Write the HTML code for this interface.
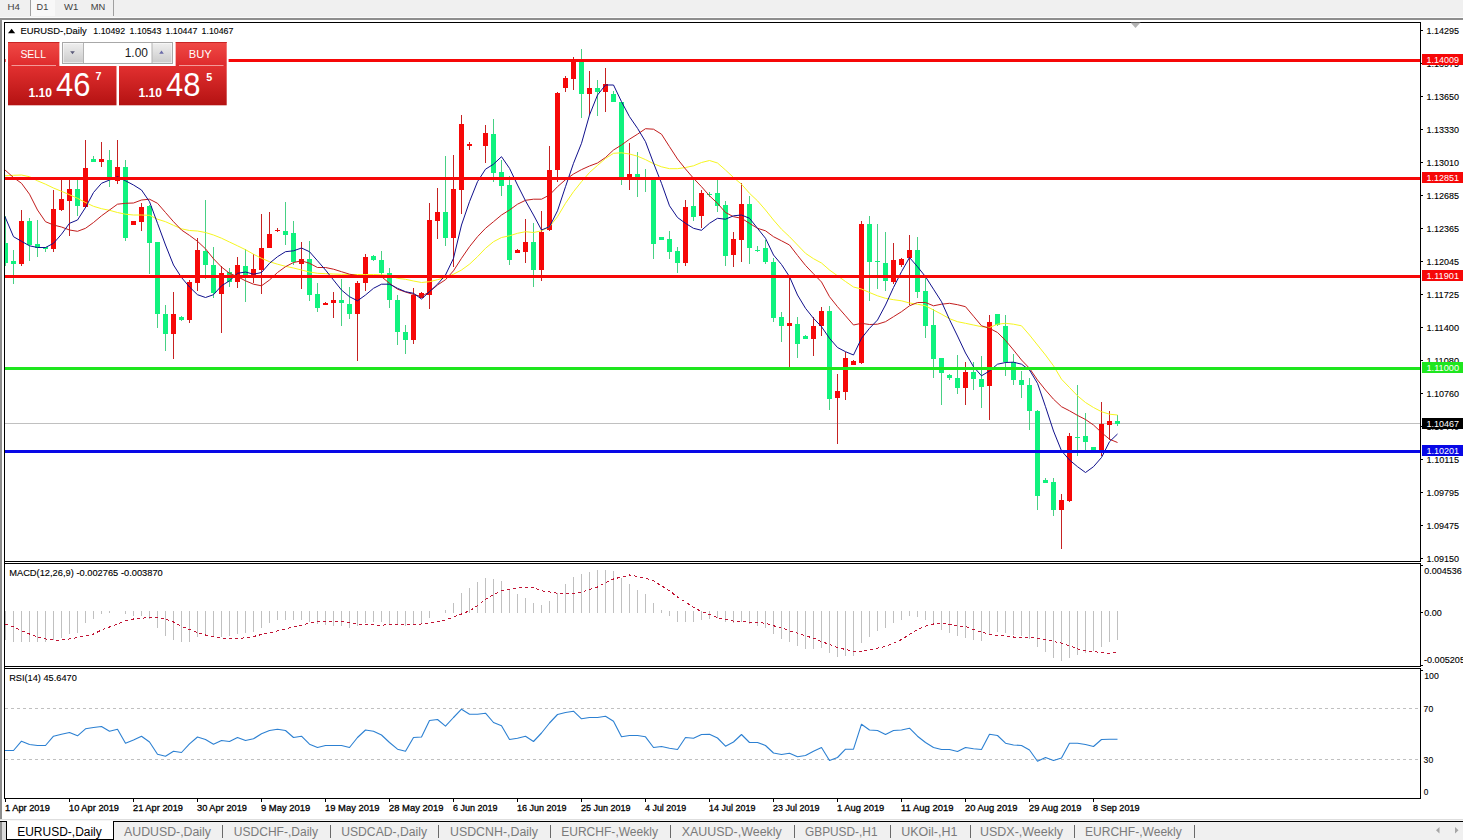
<!DOCTYPE html>
<html lang="en"><head><meta charset="utf-8"><title>EURUSD-,Daily</title>
<style>html,body{margin:0;padding:0;background:#fff;overflow:hidden}body{width:1463px;height:840px;font-family:"Liberation Sans",sans-serif}svg{display:block}text{font-family:"Liberation Sans",sans-serif}</style>
</head><body>
<svg width="1463" height="840" viewBox="0 0 1463 840">
<defs>
<linearGradient id="gb" x1="0" y1="0" x2="0" y2="1"><stop offset="0" stop-color="#f04a46"/><stop offset="1" stop-color="#de2a2c"/></linearGradient>
<linearGradient id="gp" x1="0" y1="0" x2="0" y2="1"><stop offset="0" stop-color="#e23030"/><stop offset="1" stop-color="#b41212"/></linearGradient>
<linearGradient id="gs" x1="0" y1="0" x2="0" y2="1"><stop offset="0" stop-color="#eeeeee"/><stop offset="1" stop-color="#cccccc"/></linearGradient>
<clipPath id="cm"><rect x="5" y="23" width="1415" height="538"/></clipPath>
</defs>
<rect x="0" y="0" width="1463" height="840" fill="#fff" />
<g id="topbar" shape-rendering="crispEdges">
<rect x="0" y="0" width="1463" height="17" fill="#f0f0f0" />
<rect x="0" y="17" width="1463" height="1" fill="#fafafa" />
<rect x="0" y="18" width="1463" height="2" fill="#8e8e8e" />
<rect x="0" y="20" width="2" height="799" fill="#8e8e8e" />
<rect x="31" y="0" width="24" height="16" fill="#f8f8f8" />
<rect x="30" y="0" width="1" height="16" fill="#a0a0a0" />
<rect x="113" y="0" width="1" height="16" fill="#a0a0a0" />
</g>
<text x="7.6" y="10" font-size="9.7" fill="#404040" textLength="12.4" lengthAdjust="spacingAndGlyphs" >H4</text>
<text x="36.6" y="10" font-size="9.7" fill="#404040" textLength="11.6" lengthAdjust="spacingAndGlyphs" >D1</text>
<text x="64" y="10" font-size="9.7" fill="#404040" textLength="14.3" lengthAdjust="spacingAndGlyphs" >W1</text>
<text x="90.8" y="10" font-size="9.7" fill="#404040" textLength="14.5" lengthAdjust="spacingAndGlyphs" >MN</text>
<g id="frames" shape-rendering="crispEdges" fill="#000">
<rect x="4" y="22" width="1" height="777" fill="#000" />
<rect x="4" y="22" width="1417" height="1" fill="#000" />
<rect x="1420" y="22" width="1" height="540" fill="#000" />
<rect x="4" y="561" width="1417" height="1" fill="#000" />
<rect x="4" y="563" width="1417" height="1" fill="#000" />
<rect x="1420" y="563" width="1" height="104" fill="#000" />
<rect x="4" y="666" width="1417" height="1" fill="#000" />
<rect x="4" y="668" width="1417" height="1" fill="#000" />
<rect x="1420" y="668" width="1" height="131" fill="#000" />
<rect x="4" y="798" width="1417" height="1" fill="#000" />
</g>
<g id="paxis">
<rect x="1421" y="30" width="2" height="1" fill="#000" shape-rendering="crispEdges"/>
<text x="1426.5" y="34" font-size="9.7" fill="#000" textLength="32.5" lengthAdjust="spacingAndGlyphs" stroke="#000" stroke-width="0.12" >1.14295</text>
<rect x="1421" y="63" width="2" height="1" fill="#000" shape-rendering="crispEdges"/>
<text x="1426.5" y="67" font-size="9.7" fill="#000" textLength="32.5" lengthAdjust="spacingAndGlyphs" stroke="#000" stroke-width="0.12" >1.13975</text>
<rect x="1421" y="96" width="2" height="1" fill="#000" shape-rendering="crispEdges"/>
<text x="1426.5" y="100" font-size="9.7" fill="#000" textLength="32.5" lengthAdjust="spacingAndGlyphs" stroke="#000" stroke-width="0.12" >1.13650</text>
<rect x="1421" y="129" width="2" height="1" fill="#000" shape-rendering="crispEdges"/>
<text x="1426.5" y="133" font-size="9.7" fill="#000" textLength="32.5" lengthAdjust="spacingAndGlyphs" stroke="#000" stroke-width="0.12" >1.13330</text>
<rect x="1421" y="162" width="2" height="1" fill="#000" shape-rendering="crispEdges"/>
<text x="1426.5" y="166" font-size="9.7" fill="#000" textLength="32.5" lengthAdjust="spacingAndGlyphs" stroke="#000" stroke-width="0.12" >1.13010</text>
<rect x="1421" y="195" width="2" height="1" fill="#000" shape-rendering="crispEdges"/>
<text x="1426.5" y="199" font-size="9.7" fill="#000" textLength="32.5" lengthAdjust="spacingAndGlyphs" stroke="#000" stroke-width="0.12" >1.12685</text>
<rect x="1421" y="228" width="2" height="1" fill="#000" shape-rendering="crispEdges"/>
<text x="1426.5" y="232" font-size="9.7" fill="#000" textLength="32.5" lengthAdjust="spacingAndGlyphs" stroke="#000" stroke-width="0.12" >1.12365</text>
<rect x="1421" y="261" width="2" height="1" fill="#000" shape-rendering="crispEdges"/>
<text x="1426.5" y="265" font-size="9.7" fill="#000" textLength="32.5" lengthAdjust="spacingAndGlyphs" stroke="#000" stroke-width="0.12" >1.12045</text>
<rect x="1421" y="294" width="2" height="1" fill="#000" shape-rendering="crispEdges"/>
<text x="1426.5" y="298" font-size="9.7" fill="#000" textLength="32.5" lengthAdjust="spacingAndGlyphs" stroke="#000" stroke-width="0.12" >1.11725</text>
<rect x="1421" y="327" width="2" height="1" fill="#000" shape-rendering="crispEdges"/>
<text x="1426.5" y="331" font-size="9.7" fill="#000" textLength="32.5" lengthAdjust="spacingAndGlyphs" stroke="#000" stroke-width="0.12" >1.11400</text>
<rect x="1421" y="360" width="2" height="1" fill="#000" shape-rendering="crispEdges"/>
<text x="1426.5" y="364" font-size="9.7" fill="#000" textLength="32.5" lengthAdjust="spacingAndGlyphs" stroke="#000" stroke-width="0.12" >1.11080</text>
<rect x="1421" y="393" width="2" height="1" fill="#000" shape-rendering="crispEdges"/>
<text x="1426.5" y="397" font-size="9.7" fill="#000" textLength="32.5" lengthAdjust="spacingAndGlyphs" stroke="#000" stroke-width="0.12" >1.10760</text>
<rect x="1421" y="426" width="2" height="1" fill="#000" shape-rendering="crispEdges"/>
<text x="1426.5" y="430" font-size="9.7" fill="#000" textLength="32.5" lengthAdjust="spacingAndGlyphs" stroke="#000" stroke-width="0.12" >1.10440</text>
<rect x="1421" y="459" width="2" height="1" fill="#000" shape-rendering="crispEdges"/>
<text x="1426.5" y="463" font-size="9.7" fill="#000" textLength="32.5" lengthAdjust="spacingAndGlyphs" stroke="#000" stroke-width="0.12" >1.10115</text>
<rect x="1421" y="492" width="2" height="1" fill="#000" shape-rendering="crispEdges"/>
<text x="1426.5" y="496" font-size="9.7" fill="#000" textLength="32.5" lengthAdjust="spacingAndGlyphs" stroke="#000" stroke-width="0.12" >1.09795</text>
<rect x="1421" y="525" width="2" height="1" fill="#000" shape-rendering="crispEdges"/>
<text x="1426.5" y="529" font-size="9.7" fill="#000" textLength="32.5" lengthAdjust="spacingAndGlyphs" stroke="#000" stroke-width="0.12" >1.09475</text>
<rect x="1421" y="558" width="2" height="1" fill="#000" shape-rendering="crispEdges"/>
<text x="1426.5" y="562" font-size="9.7" fill="#000" textLength="32.5" lengthAdjust="spacingAndGlyphs" stroke="#000" stroke-width="0.12" >1.09150</text>
<rect x="1421" y="565" width="2" height="1" fill="#000" shape-rendering="crispEdges"/>
<text x="1424.3" y="574" font-size="9.7" fill="#000" textLength="37.4" lengthAdjust="spacingAndGlyphs" stroke="#000" stroke-width="0.12" >0.004536</text>
<rect x="1421" y="612" width="2" height="1" fill="#000" shape-rendering="crispEdges"/>
<text x="1424.3" y="616" font-size="9.7" fill="#000" textLength="17.5" lengthAdjust="spacingAndGlyphs" stroke="#000" stroke-width="0.12" >0.00</text>
<rect x="1421" y="665" width="2" height="1" fill="#000" shape-rendering="crispEdges"/>
<text x="1424" y="663" font-size="9.7" fill="#000" textLength="41" lengthAdjust="spacingAndGlyphs" stroke="#000" stroke-width="0.12" >-0.005205</text>
<rect x="1421" y="670" width="2" height="1" fill="#000" shape-rendering="crispEdges"/>
<text x="1424.2" y="679" font-size="9.7" fill="#000" textLength="14.6" lengthAdjust="spacingAndGlyphs" stroke="#000" stroke-width="0.12" >100</text>
<text x="1423.6" y="712" font-size="9.7" fill="#000" textLength="9.6" lengthAdjust="spacingAndGlyphs" stroke="#000" stroke-width="0.12" >70</text>
<text x="1423.6" y="763" font-size="9.7" fill="#000" textLength="9.6" lengthAdjust="spacingAndGlyphs" stroke="#000" stroke-width="0.12" >30</text>
<text x="1423.8" y="795" font-size="9.7" fill="#000" textLength="4.6" lengthAdjust="spacingAndGlyphs" stroke="#000" stroke-width="0.12" >0</text>
</g>
<g id="main" clip-path="url(#cm)">
<rect x="5" y="423" width="1415" height="1" fill="#c0c0c0" shape-rendering="crispEdges"/>
<g id="candles" shape-rendering="crispEdges">
<rect x="5" y="216" width="1" height="50" fill="#48d084" />
<rect x="3" y="243" width="5" height="20" fill="#10f27e" />
<rect x="13" y="250" width="1" height="34" fill="#48d084" />
<rect x="11" y="261" width="5" height="3" fill="#10f27e" />
<rect x="21" y="210" width="1" height="56" fill="#c62222" />
<rect x="19" y="221" width="5" height="43" fill="#f60808" />
<rect x="29" y="218" width="1" height="43" fill="#48d084" />
<rect x="27" y="221" width="5" height="24" fill="#10f27e" />
<rect x="37" y="220" width="1" height="37" fill="#48d084" />
<rect x="35" y="244" width="5" height="4" fill="#10f27e" />
<rect x="45" y="248" width="1" height="4" fill="#48d084" />
<rect x="43" y="247" width="5" height="2" fill="#10f27e" />
<rect x="53" y="190" width="1" height="62" fill="#c62222" />
<rect x="51" y="209" width="5" height="40" fill="#f60808" />
<rect x="61" y="180" width="1" height="31" fill="#c62222" />
<rect x="59" y="199" width="5" height="11" fill="#f60808" />
<rect x="69" y="180" width="1" height="56" fill="#c62222" />
<rect x="67" y="189" width="5" height="12" fill="#f60808" />
<rect x="77" y="180" width="1" height="36" fill="#48d084" />
<rect x="75" y="189" width="5" height="17" fill="#10f27e" />
<rect x="85" y="140" width="1" height="68" fill="#c62222" />
<rect x="83" y="168" width="5" height="39" fill="#f60808" />
<rect x="93" y="156" width="1" height="6" fill="#48d084" />
<rect x="91" y="159" width="5" height="3" fill="#10f27e" />
<rect x="101" y="142" width="1" height="25" fill="#c62222" />
<rect x="99" y="159" width="5" height="3" fill="#f60808" />
<rect x="109" y="150" width="1" height="37" fill="#48d084" />
<rect x="107" y="160" width="5" height="18" fill="#10f27e" />
<rect x="117" y="140" width="1" height="44" fill="#c62222" />
<rect x="115" y="167" width="5" height="14" fill="#f60808" />
<rect x="125" y="160" width="1" height="81" fill="#48d084" />
<rect x="123" y="167" width="5" height="71" fill="#10f27e" />
<rect x="133" y="221" width="1" height="4" fill="#c62222" />
<rect x="131" y="221" width="5" height="4" fill="#f60808" />
<rect x="141" y="203" width="1" height="28" fill="#c62222" />
<rect x="139" y="207" width="5" height="15" fill="#f60808" />
<rect x="149" y="205" width="1" height="69" fill="#48d084" />
<rect x="147" y="206" width="5" height="37" fill="#10f27e" />
<rect x="157" y="242" width="1" height="86" fill="#48d084" />
<rect x="155" y="242" width="5" height="72" fill="#10f27e" />
<rect x="165" y="305" width="1" height="46" fill="#48d084" />
<rect x="163" y="314" width="5" height="20" fill="#10f27e" />
<rect x="173" y="292" width="1" height="67" fill="#c62222" />
<rect x="171" y="314" width="5" height="20" fill="#f60808" />
<rect x="181" y="316" width="1" height="5" fill="#48d084" />
<rect x="179" y="317" width="5" height="3" fill="#10f27e" />
<rect x="189" y="280" width="1" height="43" fill="#c62222" />
<rect x="187" y="282" width="5" height="38" fill="#f60808" />
<rect x="197" y="238" width="1" height="53" fill="#c62222" />
<rect x="195" y="250" width="5" height="33" fill="#f60808" />
<rect x="205" y="200" width="1" height="79" fill="#48d084" />
<rect x="203" y="251" width="5" height="14" fill="#10f27e" />
<rect x="213" y="247" width="1" height="51" fill="#48d084" />
<rect x="211" y="265" width="5" height="28" fill="#10f27e" />
<rect x="221" y="266" width="1" height="67" fill="#c62222" />
<rect x="219" y="273" width="5" height="21" fill="#f60808" />
<rect x="229" y="268" width="1" height="19" fill="#48d084" />
<rect x="227" y="272" width="5" height="10" fill="#10f27e" />
<rect x="237" y="257" width="1" height="31" fill="#c62222" />
<rect x="235" y="265" width="5" height="17" fill="#f60808" />
<rect x="245" y="249" width="1" height="53" fill="#48d084" />
<rect x="243" y="266" width="5" height="9" fill="#10f27e" />
<rect x="253" y="254" width="1" height="29" fill="#c62222" />
<rect x="251" y="269" width="5" height="9" fill="#f60808" />
<rect x="261" y="214" width="1" height="80" fill="#c62222" />
<rect x="259" y="248" width="5" height="22" fill="#f60808" />
<rect x="269" y="212" width="1" height="36" fill="#c62222" />
<rect x="267" y="234" width="5" height="14" fill="#f60808" />
<rect x="277" y="228" width="1" height="4" fill="#c62222" />
<rect x="275" y="230" width="5" height="1" fill="#f60808" />
<rect x="285" y="202" width="1" height="43" fill="#48d084" />
<rect x="283" y="231" width="5" height="4" fill="#10f27e" />
<rect x="293" y="221" width="1" height="44" fill="#48d084" />
<rect x="291" y="233" width="5" height="29" fill="#10f27e" />
<rect x="301" y="242" width="1" height="47" fill="#c62222" />
<rect x="299" y="259" width="5" height="5" fill="#f60808" />
<rect x="309" y="241" width="1" height="60" fill="#48d084" />
<rect x="307" y="259" width="5" height="36" fill="#10f27e" />
<rect x="317" y="283" width="1" height="29" fill="#48d084" />
<rect x="315" y="294" width="5" height="14" fill="#10f27e" />
<rect x="325" y="302" width="1" height="3" fill="#c62222" />
<rect x="323" y="303" width="5" height="2" fill="#f60808" />
<rect x="333" y="292" width="1" height="26" fill="#c62222" />
<rect x="331" y="300" width="5" height="3" fill="#f60808" />
<rect x="341" y="279" width="1" height="47" fill="#48d084" />
<rect x="339" y="300" width="5" height="3" fill="#10f27e" />
<rect x="349" y="287" width="1" height="32" fill="#48d084" />
<rect x="347" y="304" width="5" height="10" fill="#10f27e" />
<rect x="357" y="281" width="1" height="80" fill="#c62222" />
<rect x="355" y="283" width="5" height="31" fill="#f60808" />
<rect x="365" y="254" width="1" height="37" fill="#c62222" />
<rect x="363" y="257" width="5" height="26" fill="#f60808" />
<rect x="373" y="255" width="1" height="6" fill="#48d084" />
<rect x="371" y="256" width="5" height="4" fill="#10f27e" />
<rect x="381" y="251" width="1" height="25" fill="#48d084" />
<rect x="379" y="260" width="5" height="13" fill="#10f27e" />
<rect x="389" y="268" width="1" height="40" fill="#48d084" />
<rect x="387" y="273" width="5" height="27" fill="#10f27e" />
<rect x="397" y="295" width="1" height="50" fill="#48d084" />
<rect x="395" y="300" width="5" height="32" fill="#10f27e" />
<rect x="405" y="325" width="1" height="29" fill="#48d084" />
<rect x="403" y="332" width="5" height="8" fill="#10f27e" />
<rect x="413" y="288" width="1" height="56" fill="#c62222" />
<rect x="411" y="295" width="5" height="45" fill="#f60808" />
<rect x="421" y="292" width="1" height="6" fill="#c62222" />
<rect x="419" y="293" width="5" height="5" fill="#f60808" />
<rect x="429" y="203" width="1" height="106" fill="#c62222" />
<rect x="427" y="220" width="5" height="75" fill="#f60808" />
<rect x="437" y="188" width="1" height="51" fill="#c62222" />
<rect x="435" y="212" width="5" height="9" fill="#f60808" />
<rect x="445" y="156" width="1" height="90" fill="#48d084" />
<rect x="443" y="212" width="5" height="26" fill="#10f27e" />
<rect x="453" y="155" width="1" height="112" fill="#c62222" />
<rect x="451" y="189" width="5" height="49" fill="#f60808" />
<rect x="461" y="115" width="1" height="99" fill="#c62222" />
<rect x="459" y="124" width="5" height="66" fill="#f60808" />
<rect x="469" y="142" width="1" height="8" fill="#c62222" />
<rect x="467" y="144" width="5" height="2" fill="#f60808" />
<rect x="485" y="125" width="1" height="38" fill="#c62222" />
<rect x="483" y="133" width="5" height="13" fill="#f60808" />
<rect x="493" y="119" width="1" height="63" fill="#48d084" />
<rect x="491" y="134" width="5" height="39" fill="#10f27e" />
<rect x="501" y="160" width="1" height="36" fill="#48d084" />
<rect x="499" y="172" width="5" height="14" fill="#10f27e" />
<rect x="509" y="176" width="1" height="89" fill="#48d084" />
<rect x="507" y="185" width="5" height="75" fill="#10f27e" />
<rect x="517" y="249" width="1" height="3" fill="#c62222" />
<rect x="515" y="250" width="5" height="3" fill="#f60808" />
<rect x="525" y="219" width="1" height="44" fill="#c62222" />
<rect x="523" y="242" width="5" height="10" fill="#f60808" />
<rect x="533" y="223" width="1" height="64" fill="#48d084" />
<rect x="531" y="242" width="5" height="28" fill="#10f27e" />
<rect x="541" y="211" width="1" height="70" fill="#c62222" />
<rect x="539" y="232" width="5" height="38" fill="#f60808" />
<rect x="549" y="146" width="1" height="85" fill="#c62222" />
<rect x="547" y="170" width="5" height="60" fill="#f60808" />
<rect x="557" y="92" width="1" height="90" fill="#c62222" />
<rect x="555" y="93" width="5" height="77" fill="#f60808" />
<rect x="565" y="76" width="1" height="16" fill="#c62222" />
<rect x="563" y="78" width="5" height="10" fill="#f60808" />
<rect x="573" y="57" width="1" height="33" fill="#c62222" />
<rect x="571" y="61" width="5" height="18" fill="#f60808" />
<rect x="581" y="49" width="1" height="69" fill="#48d084" />
<rect x="579" y="62" width="5" height="32" fill="#10f27e" />
<rect x="589" y="71" width="1" height="44" fill="#c62222" />
<rect x="587" y="88" width="5" height="6" fill="#f60808" />
<rect x="597" y="80" width="1" height="36" fill="#48d084" />
<rect x="595" y="88" width="5" height="4" fill="#10f27e" />
<rect x="605" y="68" width="1" height="44" fill="#c62222" />
<rect x="603" y="84" width="5" height="8" fill="#f60808" />
<rect x="613" y="91" width="1" height="11" fill="#48d084" />
<rect x="611" y="94" width="5" height="8" fill="#10f27e" />
<rect x="621" y="102" width="1" height="83" fill="#48d084" />
<rect x="619" y="102" width="5" height="75" fill="#10f27e" />
<rect x="629" y="143" width="1" height="47" fill="#c62222" />
<rect x="627" y="174" width="5" height="4" fill="#f60808" />
<rect x="637" y="152" width="1" height="45" fill="#48d084" />
<rect x="635" y="174" width="5" height="4" fill="#10f27e" />
<rect x="645" y="169" width="1" height="23" fill="#48d084" />
<rect x="643" y="178" width="5" height="1" fill="#10f27e" />
<rect x="653" y="179" width="1" height="80" fill="#48d084" />
<rect x="651" y="179" width="5" height="65" fill="#10f27e" />
<rect x="661" y="237" width="1" height="3" fill="#48d084" />
<rect x="659" y="237" width="5" height="3" fill="#10f27e" />
<rect x="669" y="231" width="1" height="28" fill="#48d084" />
<rect x="667" y="239" width="5" height="13" fill="#10f27e" />
<rect x="677" y="247" width="1" height="26" fill="#48d084" />
<rect x="675" y="251" width="5" height="12" fill="#10f27e" />
<rect x="685" y="200" width="1" height="66" fill="#c62222" />
<rect x="683" y="207" width="5" height="56" fill="#f60808" />
<rect x="693" y="180" width="1" height="41" fill="#48d084" />
<rect x="691" y="206" width="5" height="11" fill="#10f27e" />
<rect x="701" y="190" width="1" height="38" fill="#c62222" />
<rect x="699" y="193" width="5" height="23" fill="#f60808" />
<rect x="709" y="192" width="1" height="5" fill="#48d084" />
<rect x="707" y="194" width="5" height="1" fill="#10f27e" />
<rect x="717" y="180" width="1" height="32" fill="#48d084" />
<rect x="715" y="193" width="5" height="13" fill="#10f27e" />
<rect x="725" y="201" width="1" height="65" fill="#48d084" />
<rect x="723" y="205" width="5" height="51" fill="#10f27e" />
<rect x="733" y="232" width="1" height="35" fill="#c62222" />
<rect x="731" y="239" width="5" height="16" fill="#f60808" />
<rect x="741" y="183" width="1" height="79" fill="#c62222" />
<rect x="739" y="204" width="5" height="36" fill="#f60808" />
<rect x="749" y="196" width="1" height="68" fill="#48d084" />
<rect x="747" y="204" width="5" height="44" fill="#10f27e" />
<rect x="757" y="246" width="1" height="6" fill="#48d084" />
<rect x="755" y="250" width="5" height="1" fill="#10f27e" />
<rect x="765" y="240" width="1" height="24" fill="#48d084" />
<rect x="763" y="248" width="5" height="14" fill="#10f27e" />
<rect x="773" y="258" width="1" height="64" fill="#48d084" />
<rect x="771" y="262" width="5" height="56" fill="#10f27e" />
<rect x="781" y="312" width="1" height="30" fill="#48d084" />
<rect x="779" y="317" width="5" height="9" fill="#10f27e" />
<rect x="789" y="278" width="1" height="89" fill="#c62222" />
<rect x="787" y="323" width="5" height="3" fill="#f60808" />
<rect x="797" y="317" width="1" height="41" fill="#48d084" />
<rect x="795" y="324" width="5" height="20" fill="#10f27e" />
<rect x="805" y="335" width="1" height="4" fill="#48d084" />
<rect x="803" y="336" width="5" height="3" fill="#10f27e" />
<rect x="813" y="317" width="1" height="39" fill="#c62222" />
<rect x="811" y="326" width="5" height="13" fill="#f60808" />
<rect x="821" y="307" width="1" height="29" fill="#c62222" />
<rect x="819" y="311" width="5" height="15" fill="#f60808" />
<rect x="829" y="306" width="1" height="104" fill="#48d084" />
<rect x="827" y="311" width="5" height="88" fill="#10f27e" />
<rect x="837" y="374" width="1" height="70" fill="#c62222" />
<rect x="835" y="391" width="5" height="7" fill="#f60808" />
<rect x="845" y="352" width="1" height="48" fill="#c62222" />
<rect x="843" y="358" width="5" height="34" fill="#f60808" />
<rect x="853" y="360" width="1" height="5" fill="#c62222" />
<rect x="851" y="361" width="5" height="4" fill="#f60808" />
<rect x="861" y="221" width="1" height="143" fill="#c62222" />
<rect x="859" y="224" width="5" height="139" fill="#f60808" />
<rect x="869" y="216" width="1" height="85" fill="#48d084" />
<rect x="867" y="224" width="5" height="38" fill="#10f27e" />
<rect x="877" y="224" width="1" height="65" fill="#48d084" />
<rect x="875" y="261" width="5" height="1" fill="#10f27e" />
<rect x="885" y="232" width="1" height="59" fill="#48d084" />
<rect x="883" y="263" width="5" height="18" fill="#10f27e" />
<rect x="893" y="243" width="1" height="41" fill="#c62222" />
<rect x="891" y="260" width="5" height="22" fill="#f60808" />
<rect x="901" y="258" width="1" height="9" fill="#c62222" />
<rect x="899" y="259" width="5" height="6" fill="#f60808" />
<rect x="909" y="235" width="1" height="70" fill="#c62222" />
<rect x="907" y="250" width="5" height="8" fill="#f60808" />
<rect x="917" y="237" width="1" height="61" fill="#48d084" />
<rect x="915" y="250" width="5" height="42" fill="#10f27e" />
<rect x="925" y="278" width="1" height="60" fill="#48d084" />
<rect x="923" y="291" width="5" height="35" fill="#10f27e" />
<rect x="933" y="309" width="1" height="69" fill="#48d084" />
<rect x="931" y="325" width="5" height="34" fill="#10f27e" />
<rect x="941" y="358" width="1" height="47" fill="#48d084" />
<rect x="939" y="358" width="5" height="15" fill="#10f27e" />
<rect x="949" y="374" width="1" height="6" fill="#48d084" />
<rect x="947" y="375" width="5" height="3" fill="#10f27e" />
<rect x="957" y="355" width="1" height="39" fill="#48d084" />
<rect x="955" y="378" width="5" height="10" fill="#10f27e" />
<rect x="965" y="362" width="1" height="43" fill="#c62222" />
<rect x="963" y="372" width="5" height="16" fill="#f60808" />
<rect x="973" y="362" width="1" height="28" fill="#48d084" />
<rect x="971" y="372" width="5" height="7" fill="#10f27e" />
<rect x="981" y="356" width="1" height="52" fill="#48d084" />
<rect x="979" y="379" width="5" height="8" fill="#10f27e" />
<rect x="989" y="315" width="1" height="105" fill="#c62222" />
<rect x="987" y="322" width="5" height="64" fill="#f60808" />
<rect x="997" y="314" width="1" height="12" fill="#48d084" />
<rect x="995" y="314" width="5" height="11" fill="#10f27e" />
<rect x="1005" y="315" width="1" height="61" fill="#48d084" />
<rect x="1003" y="326" width="5" height="36" fill="#10f27e" />
<rect x="1013" y="354" width="1" height="31" fill="#48d084" />
<rect x="1011" y="362" width="5" height="18" fill="#10f27e" />
<rect x="1021" y="371" width="1" height="27" fill="#48d084" />
<rect x="1019" y="380" width="5" height="5" fill="#10f27e" />
<rect x="1029" y="378" width="1" height="52" fill="#48d084" />
<rect x="1027" y="385" width="5" height="26" fill="#10f27e" />
<rect x="1037" y="410" width="1" height="100" fill="#48d084" />
<rect x="1035" y="411" width="5" height="85" fill="#10f27e" />
<rect x="1045" y="478" width="1" height="5" fill="#48d084" />
<rect x="1043" y="480" width="5" height="3" fill="#10f27e" />
<rect x="1053" y="478" width="1" height="38" fill="#48d084" />
<rect x="1051" y="482" width="5" height="28" fill="#10f27e" />
<rect x="1061" y="494" width="1" height="55" fill="#c62222" />
<rect x="1059" y="500" width="5" height="10" fill="#f60808" />
<rect x="1069" y="433" width="1" height="69" fill="#c62222" />
<rect x="1067" y="436" width="5" height="65" fill="#f60808" />
<rect x="1077" y="385" width="1" height="71" fill="#48d084" />
<rect x="1075" y="437" width="5" height="1" fill="#10f27e" />
<rect x="1085" y="413" width="1" height="37" fill="#48d084" />
<rect x="1083" y="436" width="5" height="6" fill="#10f27e" />
<rect x="1093" y="447" width="1" height="3" fill="#48d084" />
<rect x="1091" y="447" width="5" height="3" fill="#10f27e" />
<rect x="1101" y="402" width="1" height="54" fill="#c62222" />
<rect x="1099" y="424" width="5" height="26" fill="#f60808" />
<rect x="1109" y="411" width="1" height="29" fill="#c62222" />
<rect x="1107" y="421" width="5" height="4" fill="#f60808" />
<rect x="1117" y="415" width="1" height="11" fill="#48d084" />
<rect x="1115" y="421" width="5" height="3" fill="#10f27e" />
</g>
<polyline points="5.0,175.8 13.5,175.3 21.5,175.0 29.5,176.7 37.5,180.8 45.5,184.2 53.5,188.0 61.5,191.3 69.5,194.7 77.5,198.3 85.5,202.5 93.5,206.3 101.5,208.7 109.5,210.3 117.5,212.5 125.5,214.2 133.5,215.0 141.5,215.0 149.5,215.3 157.5,219.2 165.5,221.7 173.5,225.3 181.5,228.8 189.5,230.5 197.5,231.0 205.5,232.5 213.5,235.0 221.5,238.2 229.5,242.0 237.5,245.8 245.5,249.7 253.5,254.2 261.5,258.3 269.5,261.7 277.5,264.2 285.5,266.3 293.5,268.0 301.5,270.0 309.5,272.0 317.5,273.3 325.5,273.7 333.5,274.0 341.5,274.3 349.5,274.5 357.5,274.5 365.5,274.5 373.5,274.5 381.5,274.8 389.5,275.5 397.5,278.3 405.5,279.3 413.5,281.0 421.5,282.5 429.5,281.7 437.5,279.7 445.5,277.5 453.5,274.2 461.5,270.0 469.5,264.2 477.5,256.7 485.5,248.3 493.5,241.7 501.5,237.5 509.5,235.8 517.5,233.3 525.5,231.7 533.5,232.5 541.5,230.8 549.5,226.7 557.5,216.7 565.5,203.3 573.5,191.7 581.5,181.7 589.5,172.5 597.5,165.4 605.5,158.5 613.5,153.3 621.5,152.8 629.5,154.0 637.5,156.2 645.5,159.6 653.5,163.7 661.5,166.8 669.5,168.7 677.5,168.7 685.5,167.5 693.5,165.8 701.5,162.5 709.5,160.5 717.5,163.0 725.5,170.0 733.5,177.5 741.5,184.2 749.5,193.3 757.5,200.8 765.5,210.0 773.5,220.0 781.5,229.2 789.5,236.7 797.5,245.0 805.5,253.3 813.5,258.7 821.5,263.0 829.5,270.0 837.5,275.8 845.5,281.5 853.5,287.0 861.5,289.0 869.5,292.5 877.5,295.8 885.5,298.3 893.5,299.7 901.5,300.8 909.5,303.0 917.5,304.2 925.5,305.8 933.5,310.0 941.5,314.2 949.5,318.7 957.5,321.7 965.5,323.3 973.5,325.0 981.5,326.7 989.5,327.5 997.5,324.2 1005.5,323.3 1013.5,324.2 1021.5,325.8 1029.5,335.0 1037.5,345.0 1045.5,355.0 1053.5,365.8 1061.5,379.2 1069.5,387.5 1077.5,395.8 1085.5,402.5 1093.5,407.5 1101.5,411.7 1109.5,414.2 1117.5,415.0" fill="none" stroke="#f6f620" stroke-width="1.0" stroke-linejoin="round" />
<polyline points="5.0,170.0 13.5,177.5 21.5,183.3 29.5,194.2 37.5,210.0 45.5,221.7 53.5,225.0 61.5,227.0 69.5,230.0 77.5,231.3 85.5,228.3 93.5,222.5 101.5,215.8 109.5,210.0 117.5,204.2 125.5,203.3 133.5,203.0 141.5,200.0 149.5,199.2 157.5,203.3 165.5,212.5 173.5,221.7 181.5,230.0 189.5,235.4 197.5,241.3 205.5,248.8 213.5,258.8 221.5,267.0 229.5,273.3 237.5,276.7 245.5,280.8 253.5,284.2 261.5,285.8 269.5,280.0 277.5,272.5 285.5,266.7 293.5,262.5 301.5,260.8 309.5,263.3 317.5,267.5 325.5,267.5 333.5,269.2 341.5,271.7 349.5,274.2 357.5,275.5 365.5,276.0 373.5,276.3 381.5,276.7 389.5,283.3 397.5,289.2 405.5,292.0 413.5,294.5 421.5,296.5 429.5,291.7 437.5,285.0 445.5,279.7 453.5,270.8 461.5,258.3 469.5,246.7 477.5,236.7 485.5,228.3 493.5,221.7 501.5,215.0 509.5,210.0 517.5,204.2 525.5,200.3 533.5,199.2 541.5,199.2 549.5,195.0 557.5,186.7 565.5,179.7 573.5,174.0 581.5,169.6 589.5,166.0 597.5,163.0 605.5,157.5 613.5,150.0 621.5,145.0 629.5,139.2 637.5,134.2 645.5,128.7 653.5,129.2 661.5,134.2 669.5,146.7 677.5,159.0 685.5,169.0 693.5,178.3 701.5,186.7 709.5,195.8 717.5,203.3 725.5,212.5 733.5,216.7 741.5,218.3 749.5,223.3 757.5,228.3 765.5,230.8 773.5,236.7 781.5,240.8 789.5,245.0 797.5,255.4 805.5,265.4 813.5,273.8 821.5,282.0 829.5,296.7 837.5,306.7 845.5,315.8 853.5,325.0 861.5,323.3 869.5,324.5 877.5,324.2 885.5,321.7 893.5,316.7 901.5,311.7 909.5,305.8 917.5,302.5 925.5,302.5 933.5,305.8 941.5,304.2 949.5,303.3 957.5,304.7 965.5,306.7 973.5,316.2 981.5,325.8 989.5,328.3 997.5,332.5 1005.5,340.4 1013.5,350.0 1021.5,360.0 1029.5,368.3 1037.5,380.0 1045.5,390.0 1053.5,399.2 1061.5,406.7 1069.5,410.8 1077.5,415.4 1085.5,419.5 1093.5,425.0 1101.5,432.5 1109.5,439.2 1117.5,442.5" fill="none" stroke="#c21c1c" stroke-width="1.0" stroke-linejoin="round" />
<polyline points="5.0,216.7 13.5,236.7 21.5,241.3 29.5,245.8 37.5,247.5 45.5,247.5 53.5,243.3 61.5,234.2 69.5,223.3 77.5,220.0 85.5,207.5 93.5,192.5 101.5,183.3 109.5,180.0 117.5,176.7 125.5,180.8 133.5,185.0 141.5,190.0 149.5,201.7 157.5,223.3 165.5,245.0 173.5,265.0 181.5,277.5 189.5,287.0 197.5,294.7 205.5,297.5 213.5,294.7 221.5,285.8 229.5,280.8 237.5,273.3 245.5,272.0 253.5,274.2 261.5,272.5 269.5,263.3 277.5,256.7 285.5,251.7 293.5,250.8 301.5,248.0 309.5,251.7 317.5,260.8 325.5,270.0 333.5,280.0 341.5,290.0 349.5,296.7 357.5,300.8 365.5,295.0 373.5,288.3 381.5,284.2 389.5,284.2 397.5,288.3 405.5,291.7 413.5,293.3 421.5,299.0 429.5,291.7 437.5,284.2 445.5,275.0 453.5,258.3 461.5,225.0 469.5,201.7 477.5,181.7 485.5,169.2 493.5,164.2 501.5,156.7 509.5,168.3 517.5,185.0 525.5,200.8 533.5,215.0 541.5,230.0 549.5,226.7 557.5,210.8 565.5,186.7 573.5,163.3 581.5,143.3 589.5,115.0 597.5,95.0 605.5,85.0 613.5,85.0 621.5,101.7 629.5,116.7 637.5,128.3 645.5,141.7 653.5,163.0 661.5,183.3 669.5,205.8 677.5,217.5 685.5,223.3 693.5,228.3 701.5,230.3 709.5,223.3 717.5,218.3 725.5,219.2 733.5,215.8 741.5,215.0 749.5,218.3 757.5,228.3 765.5,238.3 773.5,255.0 781.5,264.5 789.5,276.7 797.5,295.0 805.5,308.3 813.5,318.3 821.5,326.7 829.5,338.3 837.5,347.5 845.5,351.7 853.5,355.0 861.5,338.3 869.5,328.3 877.5,320.0 885.5,305.0 893.5,287.5 901.5,271.7 909.5,257.5 917.5,266.7 925.5,276.7 933.5,289.2 941.5,301.7 949.5,319.6 957.5,336.0 965.5,353.0 973.5,366.7 981.5,375.8 989.5,371.0 997.5,364.2 1005.5,362.5 1013.5,362.2 1021.5,364.2 1029.5,370.0 1037.5,383.3 1045.5,406.7 1053.5,431.0 1061.5,450.8 1069.5,460.0 1077.5,466.7 1085.5,472.5 1093.5,466.7 1101.5,457.5 1109.5,441.7 1117.5,434.0" fill="none" stroke="#10108c" stroke-width="1.0" stroke-linejoin="round" />
<rect x="5" y="59" width="1415" height="3" fill="#f60808" shape-rendering="crispEdges"/>
<rect x="5" y="177" width="1415" height="3" fill="#f60808" shape-rendering="crispEdges"/>
<rect x="5" y="275" width="1415" height="3" fill="#f60808" shape-rendering="crispEdges"/>
<rect x="5" y="367" width="1415" height="3" fill="#1ee61e" shape-rendering="crispEdges"/>
<rect x="5" y="450" width="1415" height="3" fill="#0808e6" shape-rendering="crispEdges"/>
</g>
<polygon points="1130.5,22.5 1140.5,22.5 1135.5,28" fill="#b4b4b4"/>
<rect x="1422" y="54" width="41" height="11" fill="#f60808" shape-rendering="crispEdges"/>
<text x="1426.5" y="63" font-size="9.7" fill="#fff" textLength="32.5" lengthAdjust="spacingAndGlyphs" >1.14009</text>
<rect x="1422" y="172" width="41" height="11" fill="#f60808" shape-rendering="crispEdges"/>
<text x="1426.5" y="181" font-size="9.7" fill="#fff" textLength="32.5" lengthAdjust="spacingAndGlyphs" >1.12851</text>
<rect x="1422" y="270" width="41" height="11" fill="#f60808" shape-rendering="crispEdges"/>
<text x="1426.5" y="279" font-size="9.7" fill="#fff" textLength="32.5" lengthAdjust="spacingAndGlyphs" >1.11901</text>
<rect x="1422" y="362" width="41" height="11" fill="#1ee61e" shape-rendering="crispEdges"/>
<text x="1426.5" y="371" font-size="9.7" fill="#fff" textLength="32.5" lengthAdjust="spacingAndGlyphs" >1.11000</text>
<rect x="1422" y="418" width="41" height="11" fill="#000" shape-rendering="crispEdges"/>
<text x="1426.5" y="427" font-size="9.7" fill="#fff" textLength="32.5" lengthAdjust="spacingAndGlyphs" >1.10467</text>
<rect x="1422" y="445" width="41" height="11" fill="#0808e6" shape-rendering="crispEdges"/>
<text x="1426.5" y="454" font-size="9.7" fill="#fff" textLength="32.5" lengthAdjust="spacingAndGlyphs" >1.10201</text>
<polygon points="8,33.3 15.2,33.3 11.6,28.8" fill="#000"/>
<text x="20.4" y="34" font-size="9.7" fill="#000" textLength="66.3" lengthAdjust="spacingAndGlyphs" stroke="#000" stroke-width="0.12" >EURUSD-,Daily</text>
<text x="93.3" y="34" font-size="9.7" fill="#000" textLength="31.8" lengthAdjust="spacingAndGlyphs" stroke="#000" stroke-width="0.12" >1.10492</text>
<text x="129.6" y="34" font-size="9.7" fill="#000" textLength="31.8" lengthAdjust="spacingAndGlyphs" stroke="#000" stroke-width="0.12" >1.10543</text>
<text x="165.5" y="34" font-size="9.7" fill="#000" textLength="31.8" lengthAdjust="spacingAndGlyphs" stroke="#000" stroke-width="0.12" >1.10447</text>
<text x="201.6" y="34" font-size="9.7" fill="#000" textLength="31.8" lengthAdjust="spacingAndGlyphs" stroke="#000" stroke-width="0.12" >1.10467</text>
<g id="macd">
<g shape-rendering="crispEdges">
<rect x="5" y="611" width="1" height="29" fill="#c0c0c0" />
<rect x="13" y="611" width="1" height="31" fill="#c0c0c0" />
<rect x="21" y="611" width="1" height="31" fill="#c0c0c0" />
<rect x="29" y="611" width="1" height="31" fill="#c0c0c0" />
<rect x="37" y="611" width="1" height="31" fill="#c0c0c0" />
<rect x="45" y="611" width="1" height="31" fill="#c0c0c0" />
<rect x="53" y="611" width="1" height="29" fill="#c0c0c0" />
<rect x="61" y="611" width="1" height="27" fill="#c0c0c0" />
<rect x="69" y="611" width="1" height="23" fill="#c0c0c0" />
<rect x="77" y="611" width="1" height="22" fill="#c0c0c0" />
<rect x="85" y="611" width="1" height="12" fill="#c0c0c0" />
<rect x="93" y="611" width="1" height="8" fill="#c0c0c0" />
<rect x="101" y="611" width="1" height="3" fill="#c0c0c0" />
<rect x="109" y="611" width="1" height="2" fill="#c0c0c0" />
<rect x="125" y="611" width="1" height="3" fill="#c0c0c0" />
<rect x="133" y="611" width="1" height="5" fill="#c0c0c0" />
<rect x="141" y="611" width="1" height="5" fill="#c0c0c0" />
<rect x="149" y="611" width="1" height="8" fill="#c0c0c0" />
<rect x="157" y="611" width="1" height="17" fill="#c0c0c0" />
<rect x="165" y="611" width="1" height="25" fill="#c0c0c0" />
<rect x="173" y="611" width="1" height="29" fill="#c0c0c0" />
<rect x="181" y="611" width="1" height="31" fill="#c0c0c0" />
<rect x="189" y="611" width="1" height="31" fill="#c0c0c0" />
<rect x="197" y="611" width="1" height="26" fill="#c0c0c0" />
<rect x="205" y="611" width="1" height="25" fill="#c0c0c0" />
<rect x="213" y="611" width="1" height="26" fill="#c0c0c0" />
<rect x="221" y="611" width="1" height="26" fill="#c0c0c0" />
<rect x="229" y="611" width="1" height="25" fill="#c0c0c0" />
<rect x="237" y="611" width="1" height="23" fill="#c0c0c0" />
<rect x="245" y="611" width="1" height="22" fill="#c0c0c0" />
<rect x="253" y="611" width="1" height="21" fill="#c0c0c0" />
<rect x="261" y="611" width="1" height="17" fill="#c0c0c0" />
<rect x="269" y="611" width="1" height="12" fill="#c0c0c0" />
<rect x="277" y="611" width="1" height="9" fill="#c0c0c0" />
<rect x="285" y="611" width="1" height="9" fill="#c0c0c0" />
<rect x="293" y="611" width="1" height="9" fill="#c0c0c0" />
<rect x="301" y="611" width="1" height="9" fill="#c0c0c0" />
<rect x="309" y="611" width="1" height="11" fill="#c0c0c0" />
<rect x="317" y="611" width="1" height="13" fill="#c0c0c0" />
<rect x="325" y="611" width="1" height="14" fill="#c0c0c0" />
<rect x="333" y="611" width="1" height="15" fill="#c0c0c0" />
<rect x="341" y="611" width="1" height="15" fill="#c0c0c0" />
<rect x="349" y="611" width="1" height="17" fill="#c0c0c0" />
<rect x="357" y="611" width="1" height="15" fill="#c0c0c0" />
<rect x="365" y="611" width="1" height="12" fill="#c0c0c0" />
<rect x="373" y="611" width="1" height="11" fill="#c0c0c0" />
<rect x="381" y="611" width="1" height="11" fill="#c0c0c0" />
<rect x="389" y="611" width="1" height="13" fill="#c0c0c0" />
<rect x="397" y="611" width="1" height="13" fill="#c0c0c0" />
<rect x="405" y="611" width="1" height="15" fill="#c0c0c0" />
<rect x="413" y="611" width="1" height="13" fill="#c0c0c0" />
<rect x="421" y="611" width="1" height="13" fill="#c0c0c0" />
<rect x="429" y="611" width="1" height="7" fill="#c0c0c0" />
<rect x="445" y="610" width="1" height="3" fill="#c0c0c0" />
<rect x="453" y="603" width="1" height="10" fill="#c0c0c0" />
<rect x="461" y="593" width="1" height="20" fill="#c0c0c0" />
<rect x="469" y="588" width="1" height="25" fill="#c0c0c0" />
<rect x="477" y="582" width="1" height="31" fill="#c0c0c0" />
<rect x="485" y="578" width="1" height="35" fill="#c0c0c0" />
<rect x="493" y="579" width="1" height="34" fill="#c0c0c0" />
<rect x="501" y="581" width="1" height="32" fill="#c0c0c0" />
<rect x="509" y="590" width="1" height="23" fill="#c0c0c0" />
<rect x="517" y="594" width="1" height="19" fill="#c0c0c0" />
<rect x="525" y="598" width="1" height="15" fill="#c0c0c0" />
<rect x="533" y="603" width="1" height="10" fill="#c0c0c0" />
<rect x="541" y="605" width="1" height="8" fill="#c0c0c0" />
<rect x="549" y="601" width="1" height="12" fill="#c0c0c0" />
<rect x="557" y="593" width="1" height="20" fill="#c0c0c0" />
<rect x="565" y="584" width="1" height="29" fill="#c0c0c0" />
<rect x="573" y="577" width="1" height="36" fill="#c0c0c0" />
<rect x="581" y="574" width="1" height="39" fill="#c0c0c0" />
<rect x="589" y="572" width="1" height="41" fill="#c0c0c0" />
<rect x="597" y="570" width="1" height="43" fill="#c0c0c0" />
<rect x="605" y="570" width="1" height="43" fill="#c0c0c0" />
<rect x="613" y="571" width="1" height="42" fill="#c0c0c0" />
<rect x="621" y="578" width="1" height="35" fill="#c0c0c0" />
<rect x="629" y="584" width="1" height="29" fill="#c0c0c0" />
<rect x="637" y="590" width="1" height="23" fill="#c0c0c0" />
<rect x="645" y="594" width="1" height="19" fill="#c0c0c0" />
<rect x="653" y="603" width="1" height="10" fill="#c0c0c0" />
<rect x="661" y="610" width="1" height="3" fill="#c0c0c0" />
<rect x="669" y="611" width="1" height="5" fill="#c0c0c0" />
<rect x="677" y="611" width="1" height="11" fill="#c0c0c0" />
<rect x="685" y="611" width="1" height="11" fill="#c0c0c0" />
<rect x="693" y="611" width="1" height="11" fill="#c0c0c0" />
<rect x="701" y="611" width="1" height="9" fill="#c0c0c0" />
<rect x="709" y="611" width="1" height="8" fill="#c0c0c0" />
<rect x="717" y="611" width="1" height="7" fill="#c0c0c0" />
<rect x="725" y="611" width="1" height="11" fill="#c0c0c0" />
<rect x="733" y="611" width="1" height="12" fill="#c0c0c0" />
<rect x="741" y="611" width="1" height="11" fill="#c0c0c0" />
<rect x="749" y="611" width="1" height="13" fill="#c0c0c0" />
<rect x="757" y="611" width="1" height="15" fill="#c0c0c0" />
<rect x="765" y="611" width="1" height="17" fill="#c0c0c0" />
<rect x="773" y="611" width="1" height="23" fill="#c0c0c0" />
<rect x="781" y="611" width="1" height="28" fill="#c0c0c0" />
<rect x="789" y="611" width="1" height="31" fill="#c0c0c0" />
<rect x="797" y="611" width="1" height="35" fill="#c0c0c0" />
<rect x="805" y="611" width="1" height="38" fill="#c0c0c0" />
<rect x="813" y="611" width="1" height="38" fill="#c0c0c0" />
<rect x="821" y="611" width="1" height="37" fill="#c0c0c0" />
<rect x="829" y="611" width="1" height="42" fill="#c0c0c0" />
<rect x="837" y="611" width="1" height="46" fill="#c0c0c0" />
<rect x="845" y="611" width="1" height="45" fill="#c0c0c0" />
<rect x="853" y="611" width="1" height="45" fill="#c0c0c0" />
<rect x="861" y="611" width="1" height="32" fill="#c0c0c0" />
<rect x="869" y="611" width="1" height="26" fill="#c0c0c0" />
<rect x="877" y="611" width="1" height="20" fill="#c0c0c0" />
<rect x="885" y="611" width="1" height="17" fill="#c0c0c0" />
<rect x="893" y="611" width="1" height="12" fill="#c0c0c0" />
<rect x="901" y="611" width="1" height="9" fill="#c0c0c0" />
<rect x="909" y="611" width="1" height="5" fill="#c0c0c0" />
<rect x="917" y="611" width="1" height="6" fill="#c0c0c0" />
<rect x="925" y="611" width="1" height="9" fill="#c0c0c0" />
<rect x="933" y="611" width="1" height="13" fill="#c0c0c0" />
<rect x="941" y="611" width="1" height="19" fill="#c0c0c0" />
<rect x="949" y="611" width="1" height="22" fill="#c0c0c0" />
<rect x="957" y="611" width="1" height="25" fill="#c0c0c0" />
<rect x="965" y="611" width="1" height="27" fill="#c0c0c0" />
<rect x="973" y="611" width="1" height="29" fill="#c0c0c0" />
<rect x="981" y="611" width="1" height="30" fill="#c0c0c0" />
<rect x="989" y="611" width="1" height="23" fill="#c0c0c0" />
<rect x="997" y="611" width="1" height="21" fill="#c0c0c0" />
<rect x="1005" y="611" width="1" height="22" fill="#c0c0c0" />
<rect x="1013" y="611" width="1" height="24" fill="#c0c0c0" />
<rect x="1021" y="611" width="1" height="25" fill="#c0c0c0" />
<rect x="1029" y="611" width="1" height="28" fill="#c0c0c0" />
<rect x="1037" y="611" width="1" height="36" fill="#c0c0c0" />
<rect x="1045" y="611" width="1" height="41" fill="#c0c0c0" />
<rect x="1053" y="611" width="1" height="47" fill="#c0c0c0" />
<rect x="1061" y="611" width="1" height="50" fill="#c0c0c0" />
<rect x="1069" y="611" width="1" height="47" fill="#c0c0c0" />
<rect x="1077" y="611" width="1" height="44" fill="#c0c0c0" />
<rect x="1085" y="611" width="1" height="42" fill="#c0c0c0" />
<rect x="1093" y="611" width="1" height="40" fill="#c0c0c0" />
<rect x="1101" y="611" width="1" height="36" fill="#c0c0c0" />
<rect x="1109" y="611" width="1" height="31" fill="#c0c0c0" />
<rect x="1117" y="611" width="1" height="29" fill="#c0c0c0" />
</g>
<polyline points="5.0,624.0 13.5,627.0 21.5,630.8 29.5,634.0 37.5,637.0 45.5,639.0 53.5,640.0 61.5,640.0 69.5,639.0 77.5,637.5 85.5,635.8 93.5,634.0 101.5,630.0 109.5,627.0 117.5,624.0 125.5,620.8 133.5,619.0 141.5,618.2 149.5,617.5 157.5,617.5 165.5,619.0 173.5,622.0 181.5,626.5 189.5,629.5 197.5,632.5 205.5,635.0 213.5,636.5 221.5,638.2 229.5,639.0 237.5,638.5 245.5,637.8 253.5,636.5 261.5,634.5 269.5,632.8 277.5,630.8 285.5,629.0 293.5,626.5 301.5,625.2 309.5,623.2 317.5,622.0 325.5,621.5 333.5,621.0 341.5,621.5 349.5,622.5 357.5,624.0 365.5,624.5 373.5,625.0 381.5,625.2 389.5,624.5 397.5,624.5 405.5,624.5 413.5,624.5 421.5,624.0 429.5,622.8 437.5,621.5 445.5,620.0 453.5,617.0 461.5,614.0 469.5,610.8 477.5,605.8 485.5,599.5 493.5,594.5 501.5,590.8 509.5,589.5 517.5,587.5 525.5,587.5 533.5,587.8 541.5,590.8 549.5,592.0 557.5,593.2 565.5,594.0 573.5,593.2 581.5,592.0 589.5,589.5 597.5,587.0 605.5,582.5 613.5,579.0 621.5,577.0 629.5,575.0 637.5,576.5 645.5,578.2 653.5,580.8 661.5,585.8 669.5,590.8 677.5,597.0 685.5,602.0 693.5,607.5 701.5,611.5 709.5,614.5 717.5,617.5 725.5,619.5 733.5,621.2 741.5,621.5 749.5,622.5 757.5,622.5 765.5,623.2 773.5,625.8 781.5,627.5 789.5,630.8 797.5,633.2 805.5,635.8 813.5,638.2 821.5,641.5 829.5,644.5 837.5,647.5 845.5,649.5 853.5,651.2 861.5,651.2 869.5,650.0 877.5,648.2 885.5,646.5 893.5,643.2 901.5,639.5 909.5,634.5 917.5,629.5 925.5,626.2 933.5,624.0 941.5,622.8 949.5,624.5 957.5,625.8 965.5,626.5 973.5,629.5 981.5,632.0 989.5,634.5 997.5,635.2 1005.5,636.2 1013.5,637.0 1021.5,637.0 1029.5,637.0 1037.5,638.2 1045.5,639.5 1053.5,641.5 1061.5,643.2 1069.5,645.8 1077.5,648.8 1085.5,650.8 1093.5,651.5 1101.5,652.8 1109.5,653.2 1117.5,652.5" fill="none" stroke="#c01434" stroke-width="1" stroke-dasharray="3 3" shape-rendering="crispEdges"/>
<text x="9.2" y="576" font-size="9.7" fill="#000" textLength="153.6" lengthAdjust="spacingAndGlyphs" stroke="#000" stroke-width="0.12" >MACD(12,26,9) -0.002765 -0.003870</text>
</g>
<g id="rsi">
<line x1="5" y1="708.5" x2="1420" y2="708.5" stroke="#c0c0c0" stroke-width="1" stroke-dasharray="3 3" shape-rendering="crispEdges"/>
<line x1="5" y1="759.5" x2="1420" y2="759.5" stroke="#c0c0c0" stroke-width="1" stroke-dasharray="3 3" shape-rendering="crispEdges"/>
<polyline points="5.0,750.5 13.5,750.5 21.5,741.2 29.5,744.5 37.5,745.5 45.5,745.5 53.5,736.2 61.5,734.2 69.5,732.5 77.5,735.8 85.5,728.8 93.5,727.5 101.5,726.5 109.5,731.2 117.5,729.2 125.5,743.2 133.5,740.0 141.5,736.2 149.5,742.0 157.5,754.2 165.5,756.2 173.5,751.2 181.5,752.5 189.5,743.8 197.5,737.0 205.5,739.5 213.5,744.2 221.5,740.5 229.5,741.5 237.5,737.5 245.5,740.5 253.5,738.8 261.5,733.8 269.5,730.5 277.5,729.2 285.5,730.5 293.5,737.5 301.5,736.2 309.5,744.2 317.5,747.5 325.5,745.5 333.5,745.5 341.5,745.5 349.5,747.5 357.5,737.5 365.5,730.0 373.5,731.2 381.5,735.0 389.5,742.5 397.5,749.2 405.5,751.2 413.5,737.5 421.5,737.0 429.5,720.5 437.5,719.5 445.5,726.2 453.5,717.5 461.5,709.2 469.5,714.2 477.5,714.2 485.5,713.2 493.5,722.5 501.5,725.8 509.5,739.5 517.5,738.2 525.5,736.2 533.5,741.5 541.5,733.0 549.5,723.0 557.5,714.5 565.5,712.5 573.5,711.2 581.5,718.8 589.5,717.5 597.5,717.5 605.5,716.2 613.5,721.2 621.5,736.8 629.5,735.5 637.5,735.5 645.5,736.8 653.5,747.5 661.5,746.5 669.5,748.2 677.5,749.5 685.5,737.5 693.5,738.2 701.5,734.5 709.5,734.2 717.5,738.0 725.5,746.2 733.5,742.0 741.5,734.5 749.5,742.5 757.5,742.5 765.5,745.5 773.5,753.0 781.5,754.5 789.5,753.2 797.5,756.8 805.5,755.5 813.5,751.2 821.5,747.5 829.5,760.5 837.5,757.5 845.5,749.2 853.5,749.2 861.5,724.2 869.5,730.0 877.5,730.5 885.5,734.5 893.5,730.5 901.5,730.0 909.5,728.2 917.5,736.2 925.5,742.5 933.5,747.5 941.5,749.5 949.5,749.5 957.5,751.5 965.5,747.5 973.5,748.8 981.5,749.5 989.5,734.2 997.5,735.5 1005.5,743.2 1013.5,745.0 1021.5,745.5 1029.5,750.0 1037.5,761.2 1045.5,757.5 1053.5,760.5 1061.5,758.0 1069.5,743.2 1077.5,743.2 1085.5,744.5 1093.5,746.5 1101.5,739.5 1109.5,739.2 1117.5,739.2" fill="none" stroke="#2c80d2" stroke-width="1.1" stroke-linejoin="round"/>
<text x="9.2" y="681" font-size="9.7" fill="#000" textLength="67.6" lengthAdjust="spacingAndGlyphs" stroke="#000" stroke-width="0.12" >RSI(14) 45.6470</text>
</g>
<g id="dates">
<rect x="5" y="799" width="1" height="3" fill="#000" shape-rendering="crispEdges"/>
<text x="5" y="811" font-size="9.7" fill="#000" textLength="44.8" lengthAdjust="spacingAndGlyphs" stroke="#000" stroke-width="0.3" >1 Apr 2019</text>
<rect x="69" y="799" width="1" height="3" fill="#000" shape-rendering="crispEdges"/>
<text x="69" y="811" font-size="9.7" fill="#000" textLength="50.0" lengthAdjust="spacingAndGlyphs" stroke="#000" stroke-width="0.3" >10 Apr 2019</text>
<rect x="133" y="799" width="1" height="3" fill="#000" shape-rendering="crispEdges"/>
<text x="133" y="811" font-size="9.7" fill="#000" textLength="50.0" lengthAdjust="spacingAndGlyphs" stroke="#000" stroke-width="0.3" >21 Apr 2019</text>
<rect x="197" y="799" width="1" height="3" fill="#000" shape-rendering="crispEdges"/>
<text x="197" y="811" font-size="9.7" fill="#000" textLength="50.0" lengthAdjust="spacingAndGlyphs" stroke="#000" stroke-width="0.3" >30 Apr 2019</text>
<rect x="261" y="799" width="1" height="3" fill="#000" shape-rendering="crispEdges"/>
<text x="261" y="811" font-size="9.7" fill="#000" textLength="49.3" lengthAdjust="spacingAndGlyphs" stroke="#000" stroke-width="0.3" >9 May 2019</text>
<rect x="325" y="799" width="1" height="3" fill="#000" shape-rendering="crispEdges"/>
<text x="325" y="811" font-size="9.7" fill="#000" textLength="54.5" lengthAdjust="spacingAndGlyphs" stroke="#000" stroke-width="0.3" >19 May 2019</text>
<rect x="389" y="799" width="1" height="3" fill="#000" shape-rendering="crispEdges"/>
<text x="389" y="811" font-size="9.7" fill="#000" textLength="54.5" lengthAdjust="spacingAndGlyphs" stroke="#000" stroke-width="0.3" >28 May 2019</text>
<rect x="453" y="799" width="1" height="3" fill="#000" shape-rendering="crispEdges"/>
<text x="453" y="811" font-size="9.7" fill="#000" textLength="44.4" lengthAdjust="spacingAndGlyphs" stroke="#000" stroke-width="0.3" >6 Jun 2019</text>
<rect x="517" y="799" width="1" height="3" fill="#000" shape-rendering="crispEdges"/>
<text x="517" y="811" font-size="9.7" fill="#000" textLength="49.6" lengthAdjust="spacingAndGlyphs" stroke="#000" stroke-width="0.3" >16 Jun 2019</text>
<rect x="581" y="799" width="1" height="3" fill="#000" shape-rendering="crispEdges"/>
<text x="581" y="811" font-size="9.7" fill="#000" textLength="49.6" lengthAdjust="spacingAndGlyphs" stroke="#000" stroke-width="0.3" >25 Jun 2019</text>
<rect x="645" y="799" width="1" height="3" fill="#000" shape-rendering="crispEdges"/>
<text x="645" y="811" font-size="9.7" fill="#000" textLength="41.2" lengthAdjust="spacingAndGlyphs" stroke="#000" stroke-width="0.3" >4 Jul 2019</text>
<rect x="709" y="799" width="1" height="3" fill="#000" shape-rendering="crispEdges"/>
<text x="709" y="811" font-size="9.7" fill="#000" textLength="46.400000000000006" lengthAdjust="spacingAndGlyphs" stroke="#000" stroke-width="0.3" >14 Jul 2019</text>
<rect x="773" y="799" width="1" height="3" fill="#000" shape-rendering="crispEdges"/>
<text x="773" y="811" font-size="9.7" fill="#000" textLength="46.400000000000006" lengthAdjust="spacingAndGlyphs" stroke="#000" stroke-width="0.3" >23 Jul 2019</text>
<rect x="837" y="799" width="1" height="3" fill="#000" shape-rendering="crispEdges"/>
<text x="837" y="811" font-size="9.7" fill="#000" textLength="47.3" lengthAdjust="spacingAndGlyphs" stroke="#000" stroke-width="0.3" >1 Aug 2019</text>
<rect x="901" y="799" width="1" height="3" fill="#000" shape-rendering="crispEdges"/>
<text x="901" y="811" font-size="9.7" fill="#000" textLength="52.5" lengthAdjust="spacingAndGlyphs" stroke="#000" stroke-width="0.3" >11 Aug 2019</text>
<rect x="965" y="799" width="1" height="3" fill="#000" shape-rendering="crispEdges"/>
<text x="965" y="811" font-size="9.7" fill="#000" textLength="52.5" lengthAdjust="spacingAndGlyphs" stroke="#000" stroke-width="0.3" >20 Aug 2019</text>
<rect x="1029" y="799" width="1" height="3" fill="#000" shape-rendering="crispEdges"/>
<text x="1029" y="811" font-size="9.7" fill="#000" textLength="52.5" lengthAdjust="spacingAndGlyphs" stroke="#000" stroke-width="0.3" >29 Aug 2019</text>
<rect x="1093" y="799" width="1" height="3" fill="#000" shape-rendering="crispEdges"/>
<text x="1093" y="811" font-size="9.7" fill="#000" textLength="46.6" lengthAdjust="spacingAndGlyphs" stroke="#000" stroke-width="0.3" >8 Sep 2019</text>
</g>
<g id="tabs">
<g shape-rendering="crispEdges">
<rect x="0" y="819" width="1463" height="1" fill="#dedede" />
<rect x="0" y="820" width="1463" height="1" fill="#f6f6f6" />
<rect x="0" y="822" width="1463" height="18" fill="#f0f0f0" />
<rect x="0" y="821" width="1463" height="1" fill="#000" />
<rect x="7" y="821" width="106" height="18" fill="#fff" />
<rect x="6" y="821" width="1" height="19" fill="#000" />
<rect x="113" y="821" width="1" height="19" fill="#000" />
<rect x="6" y="839" width="108" height="1" fill="#000" />
<rect x="0" y="822" width="2" height="18" fill="#8e8e8e" />
<rect x="2" y="822" width="4" height="18" fill="#dadada" />
</g>
<text x="17.2" y="836" font-size="12" fill="#000" textLength="84.6" lengthAdjust="spacingAndGlyphs" >EURUSD-,Daily</text>
<text x="124" y="836" font-size="12" fill="#7a7a7a" textLength="87" lengthAdjust="spacingAndGlyphs" >AUDUSD-,Daily</text>
<text x="233.8" y="836" font-size="12" fill="#7a7a7a" textLength="84.2" lengthAdjust="spacingAndGlyphs" >USDCHF-,Daily</text>
<text x="341.2" y="836" font-size="12" fill="#7a7a7a" textLength="85.8" lengthAdjust="spacingAndGlyphs" >USDCAD-,Daily</text>
<text x="450" y="836" font-size="12" fill="#7a7a7a" textLength="88" lengthAdjust="spacingAndGlyphs" >USDCNH-,Daily</text>
<text x="561.2" y="836" font-size="12" fill="#7a7a7a" textLength="96.8" lengthAdjust="spacingAndGlyphs" >EURCHF-,Weekly</text>
<text x="681.7" y="836" font-size="12" fill="#7a7a7a" textLength="100.1" lengthAdjust="spacingAndGlyphs" >XAUUSD-,Weekly</text>
<text x="805" y="836" font-size="12" fill="#7a7a7a" textLength="72.5" lengthAdjust="spacingAndGlyphs" >GBPUSD-,H1</text>
<text x="901.2" y="836" font-size="12" fill="#7a7a7a" textLength="56.3" lengthAdjust="spacingAndGlyphs" >UKOil-,H1</text>
<text x="980" y="836" font-size="12" fill="#7a7a7a" textLength="83" lengthAdjust="spacingAndGlyphs" >USDX-,Weekly</text>
<text x="1085" y="836" font-size="12" fill="#7a7a7a" textLength="96.8" lengthAdjust="spacingAndGlyphs" >EURCHF-,Weekly</text>
<rect x="222" y="825" width="1" height="13" fill="#6a6a6a" shape-rendering="crispEdges"/>
<rect x="330" y="825" width="1" height="13" fill="#6a6a6a" shape-rendering="crispEdges"/>
<rect x="438" y="825" width="1" height="13" fill="#6a6a6a" shape-rendering="crispEdges"/>
<rect x="550" y="825" width="1" height="13" fill="#6a6a6a" shape-rendering="crispEdges"/>
<rect x="670" y="825" width="1" height="13" fill="#6a6a6a" shape-rendering="crispEdges"/>
<rect x="794" y="825" width="1" height="13" fill="#6a6a6a" shape-rendering="crispEdges"/>
<rect x="890" y="825" width="1" height="13" fill="#6a6a6a" shape-rendering="crispEdges"/>
<rect x="970" y="825" width="1" height="13" fill="#6a6a6a" shape-rendering="crispEdges"/>
<rect x="1074" y="825" width="1" height="13" fill="#6a6a6a" shape-rendering="crispEdges"/>
<rect x="1194" y="825" width="1" height="13" fill="#6a6a6a" shape-rendering="crispEdges"/>
<polygon points="1439.5,827 1439.5,833.5 1436,830.2" fill="#a6a6a6"/>
<polygon points="1455,827 1455,833.5 1458.5,830.2" fill="#a6a6a6"/>
</g>
<g id="panel">
<rect x="5.6" y="41" width="223" height="65" fill="#fff" />
<rect x="8" y="66" width="108.5" height="39.3" fill="url(#gp)" />
<rect x="119" y="66" width="107.7" height="39.3" fill="url(#gp)" />
<rect x="8" y="42" width="51.6" height="24" fill="url(#gb)" />
<rect x="175.4" y="42" width="51.3" height="24" fill="url(#gb)" />
<rect x="8" y="42" width="51.6" height="1" fill="#c82424" />
<rect x="175.4" y="42" width="51.3" height="1" fill="#c82424" />
<rect x="11.5" y="65" width="44.5" height="1" fill="#f39a98" />
<rect x="179" y="65" width="44.5" height="1" fill="#f39a98" />
<rect x="59.6" y="42" width="115.8" height="24" fill="#fff" />
<rect x="62.5" y="42.5" width="110" height="21" fill="#fff" stroke="#a8a8a8" stroke-width="1"/>
<rect x="63.5" y="43.5" width="19.5" height="19" fill="url(#gs)" />
<rect x="152" y="43.5" width="19.5" height="19" fill="url(#gs)" />
<rect x="83" y="43" width="1" height="20" fill="#b4b4b4" />
<rect x="151.5" y="43" width="1" height="20" fill="#b4b4b4" />
<polygon points="70.2,51.2 74.8,51.2 72.5,54.3" fill="#5a5a78"/>
<polygon points="159.2,53.8 163.8,53.8 161.5,50.6" fill="#6a6aa8"/>
<text x="148" y="56.5" font-size="12" fill="#1a1a1a" text-anchor="end" textLength="23.3" lengthAdjust="spacingAndGlyphs" >1.00</text>
<text x="20.4" y="58" font-size="11" fill="#fff" textLength="25.6" lengthAdjust="spacingAndGlyphs" >SELL</text>
<text x="188.8" y="58" font-size="11" fill="#fff" textLength="22.9" lengthAdjust="spacingAndGlyphs" >BUY</text>
<text x="28.5" y="96.9" font-size="12" fill="#fff" textLength="23.5" lengthAdjust="spacingAndGlyphs" font-weight="bold" >1.10</text>
<text x="56" y="96.0" font-size="33.5" fill="#fff" textLength="34.4" lengthAdjust="spacingAndGlyphs" >46</text>
<text x="95.5" y="80.3" font-size="11.5" fill="#fff" textLength="6" lengthAdjust="spacingAndGlyphs" font-weight="bold" >7</text>
<text x="138.5" y="96.9" font-size="12" fill="#fff" textLength="23.5" lengthAdjust="spacingAndGlyphs" font-weight="bold" >1.10</text>
<text x="166" y="96.0" font-size="33.5" fill="#fff" textLength="34.4" lengthAdjust="spacingAndGlyphs" >48</text>
<text x="206.2" y="80.6" font-size="11.5" fill="#fff" textLength="6" lengthAdjust="spacingAndGlyphs" font-weight="bold" >5</text>
</g>
</svg></body></html>
